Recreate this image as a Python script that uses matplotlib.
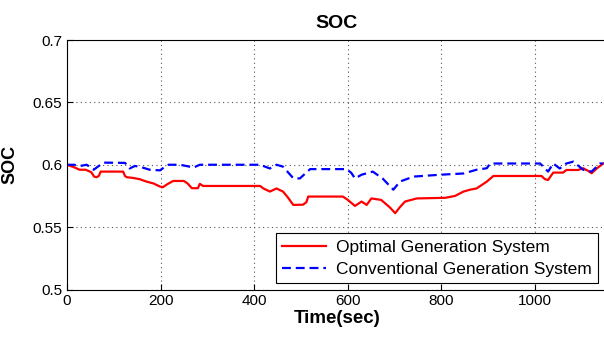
import matplotlib.pyplot as plt

plt.rcParams['font.family'] = ['Liberation Sans', 'DejaVu Sans']

# data
t_opt = [0, 15, 27, 40, 52, 58, 63, 68, 72, 120, 124, 128, 140, 155, 170, 185, 199, 205,
         215, 227, 250, 258, 267, 280, 284, 291, 302, 413, 420, 434, 448, 462, 472, 484,
         505, 512, 516, 590, 600, 616, 630, 641, 651, 672, 690, 702, 712, 723, 748, 809,
         830, 848, 862, 876, 888, 898, 912, 1015, 1022, 1029, 1040, 1061, 1068, 1093,
         1104, 1115, 1122, 1133, 1147]
soc_opt = [0.600, 0.598, 0.596, 0.596, 0.594, 0.5905, 0.590, 0.591, 0.5945, 0.5945, 0.591,
           0.590, 0.5895, 0.5885, 0.5865, 0.585, 0.5825, 0.582, 0.5845, 0.587, 0.587, 0.585,
           0.5812, 0.5812, 0.5847, 0.583, 0.583, 0.583, 0.581, 0.5785, 0.581, 0.5785, 0.574,
           0.5678, 0.568, 0.570, 0.5745, 0.5745, 0.572, 0.567, 0.5705, 0.5678, 0.573, 0.5718,
           0.566, 0.5612, 0.566, 0.5705, 0.573, 0.5735, 0.575, 0.5785, 0.580, 0.581, 0.584,
           0.5865, 0.591, 0.591, 0.5885, 0.5878, 0.5937, 0.5937, 0.5958, 0.5958, 0.5972,
           0.595, 0.5932, 0.597, 0.601]

t_conv = [0, 15, 28, 42, 50, 57, 68, 78, 124, 134, 145, 155, 177, 199, 208, 217, 242, 271,
          284, 413, 434, 448, 462, 484, 498, 520, 598, 608, 616, 630, 654, 675, 698, 712,
          741, 798, 848, 876, 898, 905, 1012, 1029, 1040, 1054, 1068, 1083, 1104, 1122,
          1140, 1147]
soc_conv = [0.600, 0.600, 0.599, 0.600, 0.598, 0.596, 0.599, 0.6017, 0.6015, 0.597, 0.599,
            0.5985, 0.596, 0.5955, 0.598, 0.600, 0.600, 0.5978, 0.600, 0.600, 0.597, 0.600,
            0.5985, 0.5892, 0.589, 0.5965, 0.5965, 0.5935, 0.589, 0.592, 0.5945, 0.589, 0.580,
            0.5865, 0.5905, 0.592, 0.593, 0.596, 0.5972, 0.601, 0.601, 0.5945, 0.601, 0.597,
            0.601, 0.6025, 0.596, 0.5945, 0.601, 0.601]

fig = plt.figure(figsize=(6.04, 3.38), dpi=100)
ax = fig.add_axes([67 / 604, 48.5 / 338, 540 / 604, 249.5 / 338])

ax.plot(t_opt, soc_opt, color='red', lw=1.6, label='Optimal Generation System')
ax.plot(t_conv, soc_conv, color='blue', lw=1.6, ls=(0, (4, 2.2)),
        label='Conventional Generation System')

ax.set_xlim(0, 1155)
ax.set_ylim(0.5, 0.7)
ax.set_xticks([0, 200, 400, 600, 800, 1000])
ax.set_yticks([0.5, 0.55, 0.6, 0.65, 0.7])
ax.set_yticklabels(['0.5', '0.55', '0.6', '0.65', '0.7'])
ax.tick_params(direction='in', length=4, labelsize=11, top=False, right=False)
ax.grid(True, color='#555555', ls=(0, (1, 3)), lw=0.8)
ax.spines['right'].set_visible(False)

ax.set_title('SOC', fontsize=14, fontweight='bold', pad=9)
ax.set_xlabel('Time(sec)', fontsize=13.5, fontweight='bold', labelpad=1)
ax.set_ylabel('SOC', fontsize=13, fontweight='bold', labelpad=10)

leg = ax.legend(loc='lower right', bbox_to_anchor=(0.983, 0.027), fontsize=12.5,
                frameon=True, fancybox=False, edgecolor='black', framealpha=1,
                handlelength=2.5, handletextpad=0.6, borderpad=0.35, labelspacing=0.4,
                borderaxespad=0)
leg.get_frame().set_linewidth(0.8)

fig.savefig('out.png', dpi=100)
